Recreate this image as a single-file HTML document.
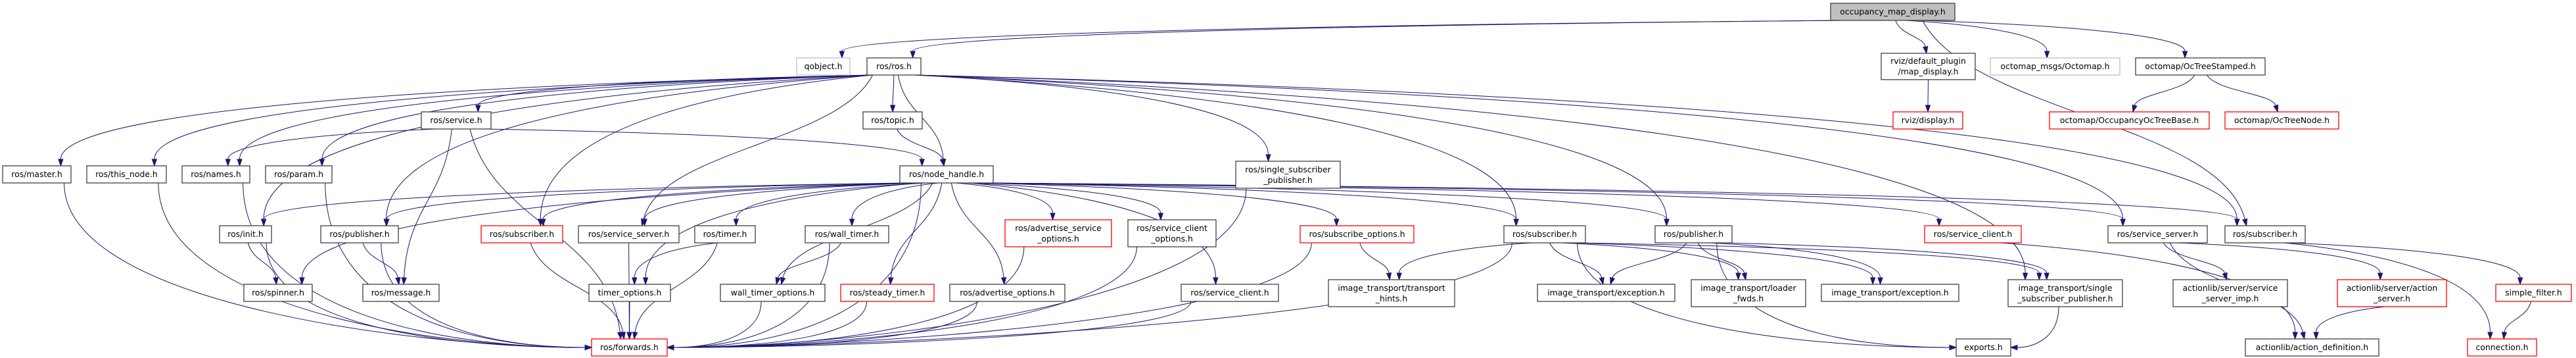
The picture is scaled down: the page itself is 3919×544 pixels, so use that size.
<!DOCTYPE html>
<html><head><meta charset="utf-8">
<style>
html,body{margin:0;padding:0;background:#fff;}
svg{display:block;}
text{font-family:"DejaVu Sans","Liberation Sans",sans-serif;font-size:12.4px;fill:#000;text-anchor:middle;}
rect{fill:#fff;stroke:#404040;stroke-width:1.3;}
rect.r{stroke:#ff0000;}
rect.g{stroke:#bfbfbf;}
rect.f{fill:#bfbfbf;}
</style></head><body>
<svg id="s" width="3919" height="544" viewBox="0 0 3919 544" xmlns="http://www.w3.org/2000/svg">
<g id="edges" fill="none" stroke="#191970" stroke-width="1"></g>
<g id="arrows" fill="#191970" stroke="#191970" stroke-width="1"></g>
<g id="nodes">
<rect id="occ" class="f" x="2785" y="5" width="189" height="26"/><text x="2879.5" y="22">occupancy_map_display.h</text>
<rect id="qobj" class="g" x="1212" y="88" width="81" height="26"/><text x="1252.5" y="105">qobject.h</text>
<rect id="ros" x="1319" y="88" width="82" height="26"/><text x="1360" y="105">ros/ros.h</text>
<rect id="rvizdp" x="2862" y="81" width="143" height="40"/><text x="2933.5" y="97">rviz/default_plugin</text><text x="2933.5" y="113">/map_display.h</text>
<rect id="omsg" class="g" x="3028" y="88" width="197" height="26"/><text x="3126.5" y="105">octomap_msgs/Octomap.h</text>
<rect id="ocs" x="3249" y="88" width="197" height="26"/><text x="3347.5" y="105">octomap/OcTreeStamped.h</text>
<rect id="srv" x="641" y="170" width="106" height="26"/><text x="694" y="187">ros/service.h</text>
<rect id="topic" x="1313" y="170" width="90" height="26"/><text x="1358" y="187">ros/topic.h</text>
<rect id="rvizd" class="r" x="2880" y="170" width="106" height="26"/><text x="2933" y="187">rviz/display.h</text>
<rect id="occb" class="r" x="3118" y="170" width="243" height="26"/><text x="3239.5" y="187">octomap/OccupancyOcTreeBase.h</text>
<rect id="otn" class="r" x="3385" y="170" width="173" height="26"/><text x="3471.5" y="187">octomap/OcTreeNode.h</text>
<rect id="master" x="4" y="252" width="104" height="26"/><text x="56" y="269">ros/master.h</text>
<rect id="thisn" x="132" y="252" width="121" height="26"/><text x="192.5" y="269">ros/this_node.h</text>
<rect id="names" x="277" y="252" width="103" height="26"/><text x="328.5" y="269">ros/names.h</text>
<rect id="param" x="404" y="252" width="101" height="26"/><text x="454.5" y="269">ros/param.h</text>
<rect id="nh" x="1369" y="252" width="142" height="26"/><text x="1440" y="269">ros/node_handle.h</text>
<rect id="ssp" x="1880" y="245" width="159" height="41"/><text x="1959.5" y="262">ros/single_subscriber</text><text x="1959.5" y="278">_publisher.h</text>
<rect id="init" x="334" y="343" width="79" height="26"/><text x="373.5" y="360">ros/init.h</text>
<rect id="pub1" x="488" y="343" width="118" height="26"/><text x="547" y="360">ros/publisher.h</text>
<rect id="sub1" class="r" x="732" y="343" width="124" height="26"/><text x="794" y="360">ros/subscriber.h</text>
<rect id="ss1" x="880" y="343" width="153" height="26"/><text x="956.5" y="360">ros/service_server.h</text>
<rect id="timer" x="1057" y="343" width="92" height="26"/><text x="1103" y="360">ros/timer.h</text>
<rect id="wtimer" x="1225" y="343" width="127" height="26"/><text x="1288.5" y="360">ros/wall_timer.h</text>
<rect id="aso" class="r" x="1529" y="334" width="162" height="41"/><text x="1610" y="351">ros/advertise_service</text><text x="1610" y="367">_options.h</text>
<rect id="sco" x="1716" y="334" width="134" height="41"/><text x="1783" y="351">ros/service_client</text><text x="1783" y="367">_options.h</text>
<rect id="subo" class="r" x="1978" y="343" width="173" height="26"/><text x="2064.5" y="360">ros/subscribe_options.h</text>
<rect id="sub2" x="2288" y="343" width="124" height="26"/><text x="2350" y="360">ros/subscriber.h</text>
<rect id="pub2" x="2518" y="343" width="117" height="26"/><text x="2576.5" y="360">ros/publisher.h</text>
<rect id="sc1" class="r" x="2928" y="343" width="147" height="26"/><text x="3001.5" y="360">ros/service_client.h</text>
<rect id="ss2" x="3207" y="343" width="151" height="26"/><text x="3282.5" y="360">ros/service_server.h</text>
<rect id="sub3" x="3385" y="343" width="122" height="26"/><text x="3446" y="360">ros/subscriber.h</text>
<rect id="spin" x="371" y="432" width="104" height="26"/><text x="423" y="449">ros/spinner.h</text>
<rect id="msg" x="552" y="432" width="116" height="26"/><text x="610" y="449">ros/message.h</text>
<rect id="topt" x="896" y="432" width="124" height="26"/><text x="958" y="449">timer_options.h</text>
<rect id="wtopt" x="1096" y="432" width="159" height="26"/><text x="1175.5" y="449">wall_timer_options.h</text>
<rect id="stimer" class="r" x="1279" y="432" width="142" height="26"/><text x="1350" y="449">ros/steady_timer.h</text>
<rect id="ao" x="1445" y="432" width="175" height="26"/><text x="1532.5" y="449">ros/advertise_options.h</text>
<rect id="sc2" x="1797" y="432" width="148" height="26"/><text x="1871" y="449">ros/service_client.h</text>
<rect id="th" x="2021" y="425" width="192" height="41"/><text x="2117" y="442">image_transport/transport</text><text x="2117" y="458">_hints.h</text>
<rect id="ex1" x="2339" y="432" width="209" height="26"/><text x="2443.5" y="449">image_transport/exception.h</text>
<rect id="lf" x="2573" y="425" width="174" height="41"/><text x="2660" y="442">image_transport/loader</text><text x="2660" y="458">_fwds.h</text>
<rect id="ex2" x="2771" y="432" width="209" height="26"/><text x="2875.5" y="449">image_transport/exception.h</text>
<rect id="issp" x="3055" y="425" width="174" height="41"/><text x="3142" y="442">image_transport/single</text><text x="3142" y="458">_subscriber_publisher.h</text>
<rect id="ssi" x="3306" y="425" width="174" height="41"/><text x="3393" y="442">actionlib/server/service</text><text x="3393" y="458">_server_imp.h</text>
<rect id="as" class="r" x="3556" y="425" width="166" height="41"/><text x="3639" y="442">actionlib/server/action</text><text x="3639" y="458">_server.h</text>
<rect id="sf" class="r" x="3797" y="432" width="115" height="26"/><text x="3854.5" y="449">simple_filter.h</text>
<rect id="fwd" class="r" x="900" y="515" width="115" height="26"/><text x="957.5" y="532">ros/forwards.h</text>
<rect id="exp" x="2976" y="515" width="83" height="26"/><text x="3017.5" y="532">exports.h</text>
<rect id="ad" x="3416" y="515" width="203" height="26"/><text x="3517.5" y="532">actionlib/action_definition.h</text>
<rect id="conn" class="r" x="3754" y="515" width="105" height="26"/><text x="3806.5" y="532">connection.h</text>
</g>
</svg>
<script>
(function(){
var E=[
["occ","qobj"],["occ","ros"],["occ","rvizdp"],["occ","omsg"],["occ","ocs"],["occ","sub3"],
["rvizdp","rvizd"],["ocs","occb"],["ocs","otn"],
["ros","master"],["ros","thisn"],["ros","names"],["ros","param"],["ros","srv"],["ros","topic"],["ros","nh"],
["ros","init"],["ros","pub1"],["ros","sub1"],["ros","ss1"],["ros","ssp"],["ros","sub2"],["ros","pub2"],
["ros","issp"],["ros","ss2"],["ros","sub3"],
["srv","names"],["srv","nh"],["srv","msg"],["srv","fwd"],["topic","nh"],
["nh","init"],["nh","pub1"],["nh","sub1"],["nh","ss1"],["nh","timer"],["nh","wtimer"],["nh","stimer"],
["nh","aso"],["nh","sco"],["nh","ao"],["nh","sc2"],["nh","subo"],["nh","sub2"],["nh","pub2"],["nh","sc1"],
["nh","ss2"],["nh","sub3"],["nh","spin"],["nh","wtopt"],["nh","topt"],["nh","fwd"],
["master","fwd"],["thisn","fwd"],["names","fwd"],["param","fwd"],["init","fwd"],["init","spin"],
["pub1","msg"],["pub1","fwd"],["sub1","fwd"],["ss1","fwd"],["timer","topt"],["timer","fwd"],
["wtimer","wtopt"],["wtimer","fwd"],["topt","fwd"],["wtopt","fwd"],["stimer","fwd"],["ao","fwd"],
["aso","fwd"],["sco","fwd"],["sc2","fwd"],["subo","fwd"],["subo","th"],["ssp","fwd"],["sub2","fwd"],
["sub2","th"],["sub2","ex1"],["sub2","lf"],["sub2","ex2"],["sub2","exp"],["sub2","issp"],
["pub2","ex1"],["pub2","lf"],["pub2","ex2"],["pub2","issp"],["pub2","exp"],
["issp","exp"],["sc1","ad"],["ss2","ssi"],["ss2","ad"],["ss2","as"],["as","ad"],
["sub3","sf"],["sub3","conn"],["sf","conn"]
];
function box(id){var r=document.getElementById(id);return{x:+r.getAttribute("x"),y:+r.getAttribute("y"),w:+r.getAttribute("width"),h:+r.getAttribute("height")};}
var ge=document.getElementById("edges"),ga=document.getElementById("arrows"),NS="http://www.w3.org/2000/svg";
E.forEach(function(e){
 var a=box(e[0]),b=box(e[1]);
 var acx=a.x+a.w/2,bcx=b.x+b.w/2;
 var sx=acx+Math.max(-a.w*0.4,Math.min(a.w*0.4,(bcx-acx)*0.08));
 var sy=a.y+a.h;
 var tx,ty,c1x,c1y,c2x,c2y;
 var dyRaw=b.y-sy, dxRaw=bcx-acx;
 var side=(e[1]=="fwd"||e[1]=="exp")&&Math.abs(dxRaw)>1.5*dyRaw;
 if(side){
   var left=dxRaw>0;
   tx=left?b.x:b.x+b.w; ty=b.y+b.h/2;
   var dy=ty-sy;
   c1x=sx; c1y=sy+dy*0.75;
   c2x=tx+(left?-1:1)*Math.min(250,Math.abs(tx-sx)*0.5); c2y=ty;
 } else {
   tx=bcx+Math.max(-b.w*0.35,Math.min(b.w*0.35,(acx-bcx)*0.05));
   ty=b.y;
   var dy=ty-sy;
   if(Math.abs(tx-sx)>2*dy){
     c1x=sx+(tx-sx)*0.55; c1y=sy+dy*0.12;
     c2x=tx; c2y=ty-dy*0.6;
   } else {
     c1x=sx+(tx-sx)*0.15; c1y=sy+dy*0.45; c2x=tx-(tx-sx)*0.08; c2y=ty-dy*0.5;
   }
 }
 var L=10,ang=Math.atan2(ty-c2y,tx-c2x);
 var ex=tx-L*Math.cos(ang),ey=ty-L*Math.sin(ang);
 var p=document.createElementNS(NS,"path");
 p.setAttribute("d","M"+sx+","+sy+" C"+c1x+","+c1y+" "+c2x+","+c2y+" "+ex+","+ey);
 ge.appendChild(p);
 var px=-Math.sin(ang)*3.5,py=Math.cos(ang)*3.5;
 var t=document.createElementNS(NS,"polygon");
 t.setAttribute("points",tx+","+ty+" "+(ex+px)+","+(ey+py)+" "+(ex-px)+","+(ey-py));
 ga.appendChild(t);
});
})();
</script>
</body></html>
